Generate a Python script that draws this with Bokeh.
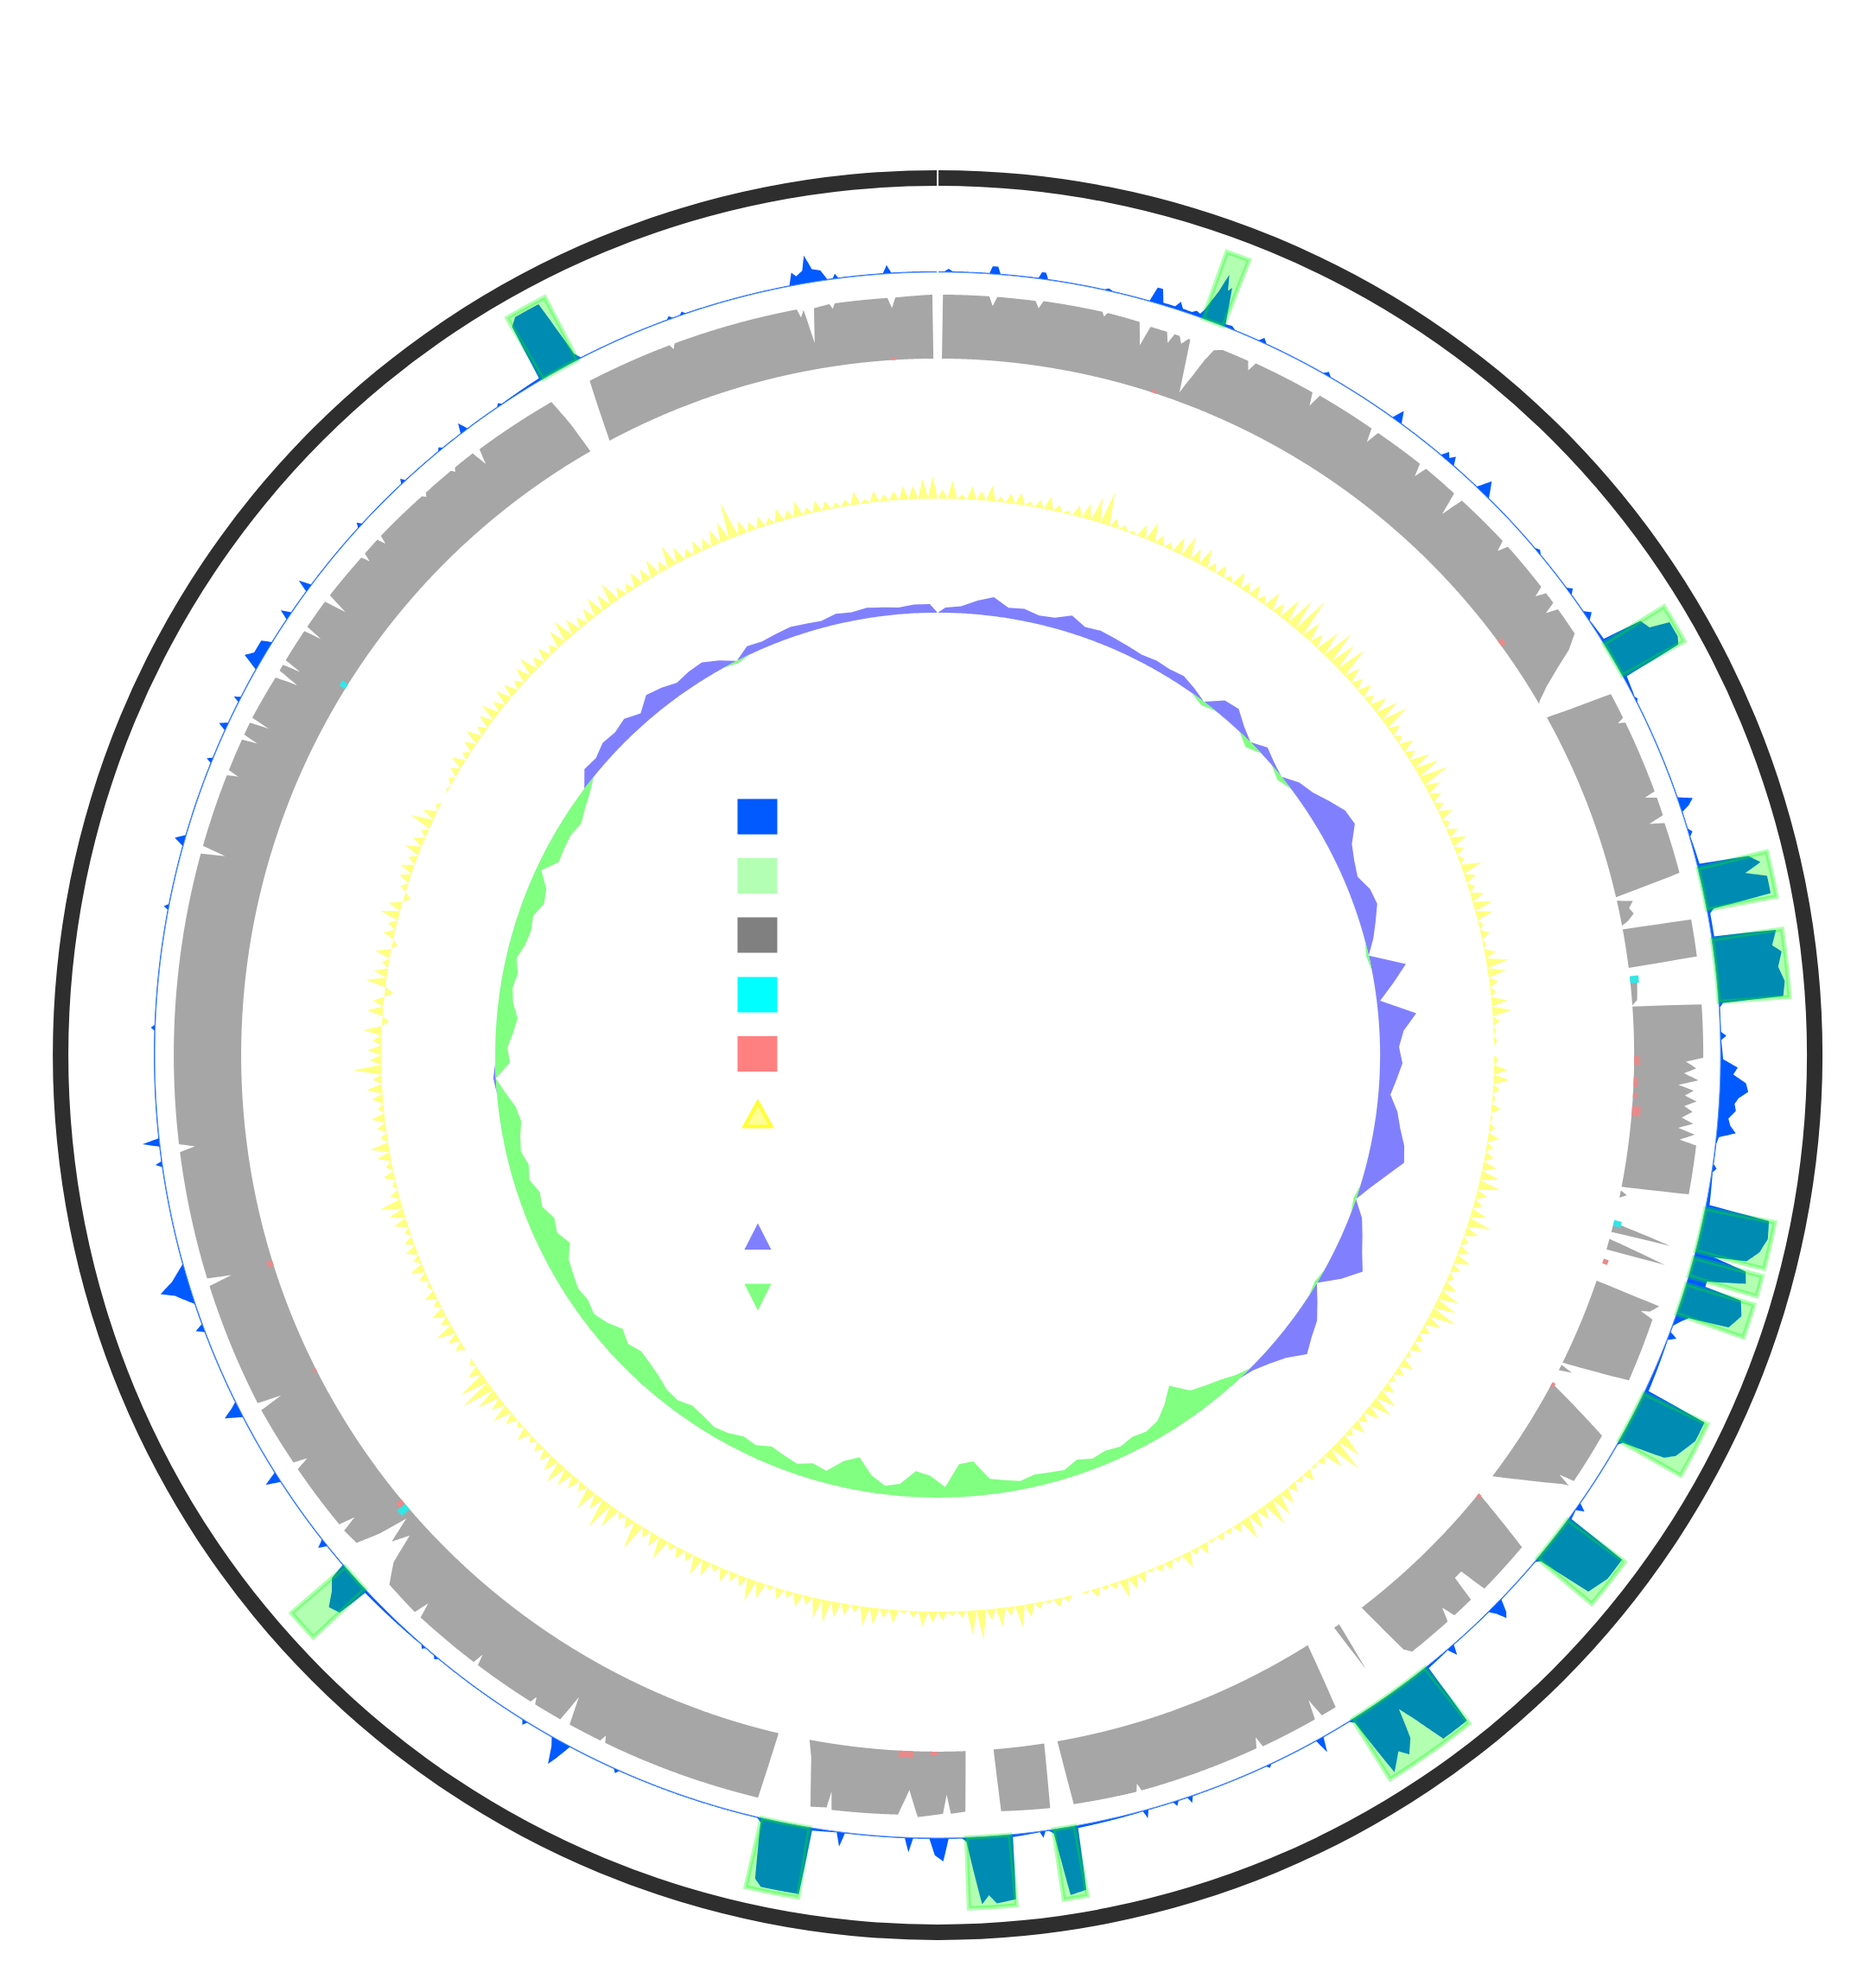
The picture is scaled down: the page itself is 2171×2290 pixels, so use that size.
import numpy as np
from bokeh.plotting import figure
from bokeh.models import Range1d
from bokeh.embed import file_html
from bokeh.resources import INLINE

# ---------------- data (angles in degrees clockwise from top) ----------------
# coverage-like track (blue): knots (angle, height)
blue_knots = [
(0.0,1),(0.5,1),(0.8,4),(1.1,1),
(3.8,1),(4.0,9),(4.4,9),(4.6,1),
(7.4,1),(7.6,8),(7.9,8),(8.1,1),
(12.3,1),(12.6,3),(12.9,1),
(15.7,1),(16.0,18),(16.4,18),(16.7,3),
(17.6,3),(17.9,10),(18.2,3),
(18.9,3),(19.2,6),(19.5,4),
(19.7,10),(20.2,35),(20.5,58),(20.8,40),(21.0,45),(21.3,20),(21.5,3),
(22.0,4),(22.3,1),
(24.2,1),(24.5,6),(24.8,1),
(29.5,1),(29.8,5),(30.1,1),
(35.5,1),(35.9,14),(36.3,1),
(40.0,1),(40.3,9),(40.6,4),(40.9,10),(41.2,1),
(43.5,1),(44.0,17),(44.4,8),(44.7,1),
(49.7,1),(50.0,4),(50.3,1),
(53.4,1),(53.7,6),(54.0,1),
(55.5,1),(55.9,8),(56.3,1),
(58.0,3),(58.3,50),(59.0,55),(59.4,78),(60.5,78),(61.0,74),(61.2,4),
(62.8,1),(63.0,3),(63.2,1),
(70.8,1),(71.2,17),(71.6,10),(71.9,1),
(73.2,1),(73.5,5),(73.8,1),
(75.9,3),(76.2,60),(76.8,72),(77.3,52),(77.8,76),(79.0,76),(79.3,8),(79.6,3),
(81.3,3),(81.5,75),(82.5,68),(83.0,78),(84.0,72),(85.0,78),(86.0,75),(86.2,5),(86.5,1),
(88.3,1),(88.6,7),(88.9,1),
(90.3,3),(90.9,20),(91.4,15),(92.0,30),(92.6,33),(93.1,22),(93.5,18),(94.0,20),(94.6,12),(95.1,15),(95.6,22),(96.0,3),(96.5,1),
(98.0,1),(98.3,5),(98.6,1),
(101.0,4),(101.3,75),(102.5,78),(103.5,72),(104.3,60),(104.6,22),
(105.0,62),(105.8,66),(106.4,22),(106.8,22),
(107.0,66),(108.0,72),(109.0,62),(109.3,15),(109.7,8),(110.2,1),
(110.7,1),(111.0,10),(111.3,1),
(115.3,4),(115.6,78),(117.0,78),(118.5,66),(119.0,55),(119.5,5),(119.8,1),
(124.9,1),(125.2,10),(125.5,1),
(126.2,3),(126.4,78),(128.0,78),(129.5,70),(130.0,5),(130.3,1),
(134.0,1),(134.4,15),(134.7,20),(135.0,8),(135.3,1),
(138.8,1),(139.1,12),(139.4,1),
(141.3,3),(141.5,78),(143.5,78),(144.3,40),(144.8,20),(145.3,55),(146.0,70),(146.5,60),(147.5,78),(148.0,5),(148.3,1),
(150.5,1),(150.8,18),(151.1,1),
(154.8,1),(155.0,4),(155.2,1),
(161.0,1),(161.2,8),(161.4,1),
(162.1,1),(162.3,6),(162.5,1),
(164.4,1),(164.6,10),(164.8,1),
(169.7,3),(169.9,75),(171.0,78),(171.5,5),(171.8,1),
(172.1,1),(172.3,8),(172.5,1),
(174.5,3),(174.7,75),(176.0,78),(176.5,68),(177.0,78),(177.9,5),(178.2,1),
(179.2,1),(179.6,27),(180.2,20),(180.6,1),
(181.8,1),(182.1,17),(182.4,1),
(186.8,1),(187.1,17),(187.4,1),
(189.2,3),(189.4,78),(192.0,78),(192.5,70),(193.0,5),(193.3,1),
(204.0,1),(204.2,5),(204.4,1),
(208.0,1),(208.5,20),(208.8,30),(209.2,10),(209.5,1),
(211.6,1),(211.8,6),(212.0,1),
(219.6,1),(219.8,4),(220.0,1),
(220.8,1),(221.0,4),(221.2,1),
(226.8,3),(227.0,40),(227.8,45),(228.5,30),(229.2,20),(229.4,1),
(231.2,1),(231.5,10),(231.8,1),
(237.0,1),(237.4,17),(237.8,1),
(242.5,1),(243.0,20),(243.4,8),(243.7,1),
(249.3,1),(249.6,10),(249.9,1),
(251.5,1),(252.5,20),(252.9,35),(253.5,18),(254.5,1),
(261.8,1),(262.0,8),(262.2,1),
(263.3,1),(263.6,20),(263.9,1),
(271.8,1),(272.0,5),(272.2,1),
(280.7,1),(280.9,6),(281.1,1),
(285.5,1),(285.9,12),(286.3,1),
(291.9,1),(292.1,7),(292.3,1),
(294.5,1),(294.8,10),(295.1,1),
(296.8,1),(297.0,8),(297.2,1),
(299.5,1),(300.0,20),(300.5,12),(301.5,12),(301.8,1),
(303.8,1),(304.1,12),(304.4,1),
(306.3,1),(306.6,15),(306.9,1),
(312.3,1),(312.5,6),(312.7,1),
(316.8,1),(317.0,6),(317.2,1),
(320.4,1),(320.6,4),(320.8,1),
(322.5,1),(322.8,12),(323.1,1),
(325.8,1),(326.0,4),(326.2,1),
(329.5,3),(329.7,70),(330.2,78),(332.0,78),(332.6,8),(332.9,1),
(339.8,1),(340.0,4),(340.2,1),
(340.8,1),(341.0,4),(341.2,1),
(349.1,1),(349.4,15),(349.7,10),(350.2,15),(350.5,32),(350.9,15),(351.5,12),(351.9,1),
(352.3,1),(352.5,6),(352.7,1),
(356.0,1),(356.3,10),(356.6,1),
(360.0,1)]

# genomic islands (start, end) in degrees
islands = [(19.8, 21.4), (58.3, 61.0), (76.2, 79.3), (81.5, 86.1), (101.3, 104.5),
           (105.0, 106.4), (107.0, 109.3), (115.6, 119.5), (126.4, 130.0),
           (141.5, 148.0), (169.9, 171.5), (174.7, 177.9), (189.4, 193.0),
           (227.0, 229.2), (329.7, 332.6)]

# BLAST identity track (gray): knots (angle, height)
gray_knots = [
(0.0,0),(0.35,0),(0.4,74),
(3.9,74),(4.2,63),(4.5,74),
(7.4,74),(7.7,66),(8.0,75),
(12.5,75),(12.7,70),(12.9,75),
(15.4,74),(15.9,48),(16.3,72),
(17.6,72),(17.9,60),(18.2,72),
(18.6,72),(18.9,64),(19.3,72),
(19.45,72),(19.75,40),(20.05,10),(20.3,22),(20.6,35),(21.0,55),(21.4,70),
(22.0,74),(24.1,74),(24.4,64),(24.7,75),
(29.5,75),(29.8,60),(30.1,76),
(34.7,76),(35.0,60),(35.3,76),
(39.2,77),(39.5,62),(39.8,77),
(42.6,77),(43.0,50),(43.4,77),
(47.7,78),(48.0,66),(48.3,78),
(52.2,78),(52.5,66),(52.8,78),
(53.7,78),(54.0,64),(54.3,78),
(56.5,78),(57.3,62),(58.0,40),(58.8,18),(59.5,3),(59.7,0),
(61.0,0),(61.3,25),(61.8,78),
(63.8,78),(64.0,70),(64.2,78),
(69.8,78),(70.0,65),(70.3,78),
(71.7,78),(72.0,60),(72.3,77),
(76.2,78),(76.9,0),
(77.2,0),(77.5,18),(78.0,12),(78.5,16),(79.0,8),(79.3,0),
(79.6,0),(79.8,80),(82.6,80),(82.8,0),
(83.5,0),(84.0,8),(85.5,6),(85.9,0),
(86.0,0),(86.2,80),
(90.2,80),(90.5,60),(91.0,72),(91.4,58),(91.9,75),(92.3,52),(92.7,70),(93.1,60),(93.5,74),(93.9,60),
(94.3,70),(94.8,58),(95.2,72),(95.6,55),(96.0,75),(96.5,58),(96.8,78),
(100.5,78),(100.9,0),
(101.2,0),(101.5,8),(101.8,0),
(103.9,0),(104.6,70),(104.7,0),
(105.3,0),(106.1,70),(106.2,0),
(108.9,0),(109.2,78),(109.8,70),(110.0,60),(110.3,76),
(115.2,78),(116.2,0),
(116.4,0),(116.6,15),(116.9,0),
(118.1,0),(119.8,80),
(123.8,80),(124.0,62),(124.3,78),(124.5,70),(126.0,30),(127.2,0),
(129.0,0),(130.1,78),
(134.3,78),(134.6,45),(135.3,45),(135.6,76),
(137.3,76),(137.6,60),(138.0,76),
(141.5,76),(141.9,68),(142.5,0),
(144.8,0),(145.1,60),(145.3,0),
(147.9,0),(148.6,78),
(149.8,78),(150.1,55),(150.4,78),
(154.8,78),(155.0,65),(155.3,77),
(164.5,77),(164.7,68),(164.9,77),
(169.7,75),(170.1,0),
(171.2,0),(171.5,75),
(175.2,72),(175.4,0),
(177.7,0),(177.9,70),
(179.0,72),(179.3,50),(179.6,72),
(181.5,76),(182.2,45),(183.0,74),
(188.0,76),(188.2,55),(188.4,74),
(189.6,76),(190.2,20),(190.6,0),
(193.2,0),(193.6,78),
(205.8,78),(206.0,70),(206.2,78),
(208.8,78),(209.2,45),(209.6,78),
(211.8,78),(212.0,70),(212.2,78),
(217.0,78),(217.2,65),(217.4,78),
(222.6,78),(222.9,60),(223.2,78),
(226.0,76),(227.0,55),(227.7,20),(228.3,40),(228.9,10),(229.4,45),(230.0,72),
(231.3,74),(231.6,55),(231.9,74),
(237.1,76),(237.4,60),(237.7,76),
(242.3,78),(242.6,50),(242.9,78),
(252.4,78),(252.7,50),(253.0,78),
(262.7,78),(263.0,60),(263.3,78),
(285.3,78),(285.6,50),(285.9,78),
(291.5,78),(291.7,65),(291.9,78),
(294.4,78),(294.6,60),(294.8,78),
(295.8,78),(296.0,55),(296.2,78),
(299.7,76),(300.0,50),(300.3,76),
(300.8,76),(301.0,55),(301.2,76),
(303.8,76),(304.0,55),(304.2,76),
(306.5,76),(306.8,50),(307.1,76),
(310.8,75),(311.0,65),(311.2,75),
(312.6,75),(312.8,65),(313.0,75),
(317.3,74),(317.5,70),(317.7,74),
(320.2,74),(320.4,70),(320.6,74),
(322.3,74),(322.6,55),(322.9,73),
(329.4,72),(329.8,40),(330.1,0),
(331.9,0),(332.7,72),
(339.3,72),(339.5,66),(339.7,72),
(349.3,72),(349.5,62),(349.8,70),(350.2,30),(350.6,70),
(351.8,72),(352.0,66),(352.2,72),
(356.2,72),(356.5,60),(356.8,72),
(359.6,74),(359.65,0),(360.0,0)]

# small hits of two other genomes (start, end, height)
cyan_hits = [(83.5, 84.1, 10), (103.7, 104.2, 9), (229.3, 229.9, 12), (301.7, 302.2, 8)]
red_hits = [(17.8, 18.3, 3), (53.5, 54.1, 6), (90.1, 90.8, 7), (91.8, 92.6, 5), (93.1, 93.5, 5),
            (94.2, 95.0, 10), (107.0, 107.4, 6), (118.0, 118.4, 4), (129.0, 129.4, 4),
            (180.0, 180.6, 4), (182.0, 183.2, 8), (229.9, 230.4, 8), (243.0, 243.3, 4),
            (252.4, 252.9, 7), (356.2, 356.6, 3)]

# GC content deviation, one value per degree
gc_content = [
 8, 16, 4, 12, 8, 14, 5, 9, 11, 4,
 7, 12, 6, 3, 10, 14, 22, 30, 8, 5,
 3, 12, 18, 9, 6, 15, 20, 12, 17, 8,
 10, 5, 14, 9, 12, 7, 16, 11, 22, 28,
 35, 18, 12, 22, 30, 25, 28, 14, 10, 12,
 8, 15, 20, 24, 10, 6, 12, 9, 18, 22,
 26, 14, 10, 8, 12, 6, 10, 14, 8, 5,
 18, 10, 6, 12, 17, 15, 4, 8, 3, 10,
 20, 16, 8, 5, 14, 17, 6, 2, 3, 0,
 4, 12, 14, 6, 3, 8, 2, 5, 10, 6,
 8, 12, 16, 20, 10, 8, 14, 20, 12, 6,
 10, 14, 8, 6, 12, 18, 20, 24, 14, 8,
 6, 10, 4, 12, 8, 5, 10, 18, 20, 14,
 8, 12, 6, 22, 30, 18, 6, 3, 10, 5,
 8, 14, 20, 24, 12, 16, 20, 8, 4, 6,
 3, 10, 6, 14, 4, 8, 6, 3, 10, 12,
 17, 6, 4, 8, 2, 0, 5, 8, 3, 6,
 12, 20, 8, 17, 10, 27, 22, 6, 4, 8,
 10, 14, 6, 3, 12, 8, 15, 17, 6, 10,
 14, 20, 18, 8, 12, 6, 10, 4, 14, 20,
 10, 8, 12, 6, 14, 17, 8, 10, 6, 20,
 12, 8, 25, 10, 6, 20, 27, 14, 20, 8,
 12, 16, 20, 14, 10, 8, 6, 12, 4, 10,
 17, 12, 20, 30, 26, 12, 4, 0, 8, 10,
 17, 8, 12, 6, 10, 4, 8, 12, 6, 10,
 8, 5, 12, 14, 20, 8, 4, 10, 6, 12,
 17, 6, 8, 12, 5, 10, 14, 8, 25, 10,
 12, 8, 16, -6, 14, 10, -8, 18, 12, 6,
 14, -5, 10, 8, 17, 12, -6, 6, 10, 12,
 8, 14, 10, 6, 20, 12, 4, 0, 2, 5,
 8, 12, 6, 10, 14, 8, 12, 16, 10, 14,
 12, 8, 14, 17, 10, 12, 8, 16, 20, 14,
 10, 12, 17, 14, 20, 10, 8, 14, 12, 16,
 10, 20, 14, 8, 12, 10, 14, 18, 33, 12,
 8, 10, 6, 12, 8, 14, 6, 10, 8, 5,
 6, 12, 4, 10, 6, 8, 12, 12, 18, 20]

# GC skew, one value per 2 degrees (bin centres 1, 3, 5, ...)
gc_skew = [
 6, 8, 16, 22, 12, 14, 10, 12, 20, 12,
 14, 12, 10, 8, 10, 9, 11, 6, -5, 16,
 19, 8, -8, 10, 4, -6, 12, 18, 28, 38,
 40, 26, 20, 16, 24, 26, 18, 10, -3, 40,
 22, 4, 44, 28, 22, 26, 20, 14, 24, 30,
 38, 42, 26, 12, -3, 14, 22, 30, 40, 22,
 -3, 12, 24, 30, 38, 22, 12, 4, -6, -14,
 -20, -26, -45, -30, -18, -14, -16, -12, -15, -12,
 -17, -10, -12, -14, -10, -14, -18, -40, -38, -12,
 -25, -30, -14, -10, -20, -38, -30, -14, -18, -12,
 -16, -20, -14, -17, -12, -10, -14, -17, -12, -14,
 -20, -24, -27, -22, -29, -20, -14, -18, -16, -20,
 -24, -34, -26, -30, -22, -25, -18, -22, -17, -20,
 -24, -20, -10, 3, -17, -14, -20, -24, -17, -14,
 -17, -12, -18, -20, -17, -24, -20, -6, -20, -18,
 -17, -20, -14, -8, 14, 12, 18, 16, 20, 12,
 24, 20, 14, 17, 18, 10, -3, 10, 8, 10,
 12, 10, 8, 12, 10, 12, 10, 8, 10, 10]

legend_colors = ["#005aff", "#b3ffb3", "#808080", "#00ffff", "#ff8080"]

# ---------------- geometry (page pixels) ----------------
W, H = 2155, 2274
CX, CY = 1084.6, H - 1220.4
R_RING_IN, R_RING_OUT = 1006, 1024
R_BLUE, R_ISL = 906, 988
R_GRAY, R_GC, R_SKEW = 806, 644, 512
GC_SCALE = 1.3


def pol(theta, r):
    t = np.radians(theta)
    return CX + r * np.sin(t), CY + r * np.cos(t)


def band(knots, base, step=0.05):
    deg = np.array([k[0] for k in knots], float)
    val = np.array([k[1] for k in knots], float)
    g = np.arange(0, 360 + step / 2, step)
    v = np.interp(g, deg, val)
    xo, yo = pol(g, base + v)
    xi, yi = pol(g[::-1], np.full(len(g), float(base)))
    return list(np.concatenate([xo, xi])), list(np.concatenate([yo, yi]))


def sector(t0, t1, r0, r1):
    n = max(2, int((t1 - t0) / 0.05) + 1)
    g = np.linspace(t0, t1, n)
    xo, yo = pol(g, np.full(n, float(r1)))
    xi, yi = pol(g[::-1], np.full(n, float(r0)))
    return list(np.concatenate([xo, xi])), list(np.concatenate([yo, yi]))


def spikes(values, base, width, scale):
    th, rr = [], []
    for i, v in enumerate(values):
        th += [i * width, i * width + width / 2]
        rr += [base, base + v * scale]
    th.append(360.0)
    rr.append(base)
    g = np.linspace(360, 0, 1441)
    th = np.concatenate([np.array(th), g])
    rr = np.concatenate([np.array(rr, float), np.full(len(g), float(base))])
    x, y = pol(th, rr)
    return list(x), list(y)


def skew_poly(values, base, width, sign):
    th = [0.0] + [i * width + width / 2 for i in range(len(values))] + [360.0]
    vv = [0.0] + [max(v, 0) if sign > 0 else min(v, 0) for v in values] + [0.0]
    g = np.linspace(360, 0, 1441)
    th = np.concatenate([np.array(th), g])
    rr = np.concatenate([base + np.array(vv, float), np.full(len(g), float(base))])
    x, y = pol(th, rr)
    return list(x), list(y)


def P(px, py):
    return px, H - py


p = figure(width=W, height=H, x_range=Range1d(0, W), y_range=Range1d(0, H),
           output_backend="svg", toolbar_location=None, min_border=0)
p.axis.visible = False
p.grid.visible = False
p.outline_line_color = None
p.background_fill_color = "white"
p.border_fill_color = "white"

# outer ring
p.annulus(x=CX, y=CY, inner_radius=R_RING_IN, outer_radius=R_RING_OUT,
          fill_color="#2e2e2e", line_color=None)

# blue track
bx, by = band(blue_knots, R_BLUE)
p.patch(bx, by, fill_color="#005aff", line_color=None)
cx_, cy_ = pol(np.linspace(0, 360, 1441), np.full(1441, float(R_BLUE)))
p.line(list(cx_), list(cy_), line_color="#5c93ff", line_width=1)

# islands
ixs, iys = [], []
for a, b in islands:
    x, y = sector(a, b, R_BLUE, R_ISL)
    ixs.append(x)
    iys.append(y)
p.patches(ixs, iys, fill_color="#00ff00", fill_alpha=0.3,
          line_color="#00ff00", line_alpha=0.3, line_width=5, line_join="miter")

# gray identity track
gx, gy = band(gray_knots, R_GRAY)
p.patch(gx, gy, fill_color="#a6a6a6", line_color=None)

for hits, col in ((cyan_hits, "#33e6e6"), (red_hits, "#e88a8a")):
    xs, ys = [], []
    for a, b, h in hits:
        x, y = sector(a, b, R_GRAY, R_GRAY + h)
        xs.append(x)
        ys.append(y)
    p.patches(xs, ys, fill_color=col, line_color=None)

# GC content
yx, yy = spikes(gc_content, R_GC, 1.0, GC_SCALE)
p.patch(yx, yy, fill_color="#ffff80", line_color=None)

# GC skew
sx, sy = skew_poly(gc_skew, R_SKEW, 2.0, 1)
p.patch(sx, sy, fill_color="#8080ff", line_color=None)
sx, sy = skew_poly(gc_skew, R_SKEW, 2.0, -1)
p.patch(sx, sy, fill_color="#80ff80", line_color=None)

# origin mark
x0, y0 = pol(np.array([0.0, 0.0]), np.array([490.0, 1030.0]))
p.line(list(x0), list(y0), line_color="white", line_width=2)

# legend glyphs
row_y = [944.5, 1013, 1081.5, 1150.5, 1219]
for yy_, col in zip(row_y, legend_colors):
    lx, ly = P(876, yy_)
    p.rect(x=lx, y=ly, width=46, height=41, fill_color=col, line_color=None)


def tri(xc, ytop, ybot, up=True):
    a = P(xc - 15.5, ybot if up else ytop)
    b = P(xc + 15.5, ybot if up else ytop)
    c = P(xc, ytop if up else ybot)
    return [a[0], b[0], c[0]], [a[1], b[1], c[1]]


tx, ty = tri(876.5, 1275, 1303)
p.patch(tx, ty, fill_color="#ffff99", line_color="#ffff33", line_width=4, line_join="miter")
tx, ty = tri(876.5, 1415, 1445.5)
p.patch(tx, ty, fill_color="#8080ff", line_color=None)
tx, ty = tri(876.5, 1485, 1516, up=False)
p.patch(tx, ty, fill_color="#80ff80", line_color=None)

open("out.html", "w").write(file_html(p, INLINE))
